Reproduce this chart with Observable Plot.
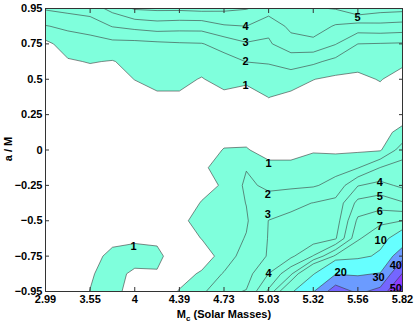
<!DOCTYPE html>
<html><head><meta charset="utf-8">
<script src="https://cdn.jsdelivr.net/npm/d3@7"></script>
<script src="https://cdn.jsdelivr.net/npm/@observablehq/plot@0.6"></script>
<style>
body{margin:0;background:#fff;}
#chart{width:415px;height:326px;}
</style></head><body><div id="chart"></div>
<script>
const massTicks = ["2.99","3.55","4","4.39","4.73","5.03","5.32","5.56","5.82"];
const spinTicks = ["0.95","0.75","0.5","0.25","0","\u22120.25","\u22120.5","\u22120.75","\u22120.95"];
const levels = [1,2,3,4,5,6,7,10,20,30,40,50];
const levelColors = ["#7fffdc","#7fffdc","#7fffdc","#7fffdc","#7fffdc","#7fffdc","#7fffdc","#66ffff","#6b9bff","#7466ff","#8c3cff","#9a2ff0"];
// grid of values: rows top (a/M = 0.95) to bottom (a/M = -0.95), columns low to high mass
const snrRows = [
  [3.1,3.3,3.5,4.3,5.1,5.2,5.2,5.3,5.2,5.05,4.6,4.8,4.9,5.05,5.8,5.4,5.3],
  [1.95,2.2,2.4,3.05,3.3,3.5,3.4,3.4,3.9,4.0,3.2,4.3,4.5,3.9,3.6,3.7,3.6],
  [0.75,1.45,1.6,1.7,1.7,1.8,1.9,1.95,2.4,2.9,2.9,3.5,3.7,3.05,2.0,1.95,1.9],
  [0.5,0.9,1.05,0.95,1.3,1.5,1.5,1.35,1.6,2.02,2.1,2.5,2.2,1.7,1.3,1.4,1.2],
  [0.3,0.6,0.6,0.6,1.02,1.2,1.2,0.95,1.3,1.2,1.4,1.4,1.02,0.8,0.8,1.05,0.6],
  [0.2,0.4,0.4,0.4,0.6,0.9,0.9,0.7,0.8,0.6,1.02,0.8,0.6,0.5,0.5,0.7,0.4],
  [0.2,0.3,0.3,0.3,0.4,0.5,0.5,0.4,0.4,0.4,0.6,0.5,0.4,0.4,0.4,0.5,0.6],
  [0.2,0.2,0.2,0.2,0.3,0.3,0.4,0.4,0.6,0.6,0.4,0.4,0.5,0.5,0.5,0.7,1.25],
  [0.2,0.2,0.2,0.2,0.3,0.3,0.4,0.5,1.05,1.08,0.6,0.6,0.9,0.8,0.85,0.9,2.5],
  [0.2,0.2,0.2,0.2,0.3,0.3,0.4,0.75,1.6,1.95,1.3,1.3,1.5,1.7,1.95,3.02,3.4],
  [0.2,0.2,0.2,0.3,0.3,0.3,0.4,0.7,1.1,2.2,1.8,1.8,1.9,2.3,3.95,4.3,3.8],
  [0.2,0.2,0.3,0.3,0.3,0.4,0.5,1.05,1.5,2.02,2.4,2.8,3.02,3.3,5.3,5.6,5.1],
  [0.3,0.3,0.3,0.4,0.5,0.6,0.8,1.3,1.6,1.9,3.02,3.2,3.4,3.5,6.2,6.6,7.0],
  [0.3,0.3,0.4,0.7,0.8,0.85,0.6,1.02,1.6,2.05,3.05,3.4,3.5,3.9,6.8,8.2,13],
  [0.4,0.5,0.6,1.3,1.5,1.2,0.5,0.6,1.3,2.6,3.05,3.8,5.05,7.2,8.5,11,27],
  [0.4,0.5,0.9,1.4,0.77,0.93,0.7,1.1,2.1,2.6,4.02,5.8,9.5,19.5,19,20.5,40.5],
  [0.4,0.5,1.02,1.3,0.6,0.5,1.05,1.8,2.8,3.05,5.2,8.8,19.5,36,28,33,55]
];
const labelText = ["5","4","3","2","1","1","2","3","4","4","5","6","7","10","20","30","40","50","1"];
const labelCol  = [13.99,8.97,8.97,8.97,8.97,10.0,9.96,9.96,10.0,14.98,14.98,14.98,14.98,15.02,13.23,14.93,15.7,15.7,3.95];
const labelRow  = [0.51,1.02,1.92,3.0,4.35,8.76,10.51,11.65,14.98,9.84,10.63,11.48,12.32,13.11,14.92,15.2,14.53,15.83,13.45];

const nRows = snrRows.length, nCols = snrRows[0].length;
const values = snrRows.flat();
const tickIdx = massTicks.map((_, k) => 2 * k);
const labels = labelText.map((t, k) => ({t, x: labelCol[k], y: labelRow[k]}));
const font = "'Liberation Sans', Arial, Helvetica, sans-serif";

const plot = Plot.plot({
  width: 415, height: 326,
  marginLeft: 45, marginRight: 13, marginTop: 8, marginBottom: 35,
  style: {fontFamily: font, fontSize: "11px", fontWeight: "bold", color: "#000", background: "#fff"},
  x: {domain: [0, nCols - 1], label: null},
  y: {domain: [nRows - 1, 0], label: null},
  color: {type: "ordinal", domain: levels, range: levelColors},
  marks: [
    Plot.contour(values, {width: nCols, height: nRows, x1: -0.5, x2: nCols - 0.5, y1: -0.5, y2: nRows - 0.5,
      thresholds: levels, fill: Plot.identity, stroke: "#3a3a3a", strokeWidth: 0.6, clip: true}),
    Plot.text(labels, {x: "x", y: "y", text: "t", fontSize: 11, fontWeight: "bold", fill: "#000"}),
    Plot.frame({stroke: "#333", strokeWidth: 1}),
    Plot.axisX({anchor: "bottom", ticks: tickIdx, tickSize: 0, tickPadding: 4, tickFormat: i => massTicks[i / 2], fill: "#000"}),
    Plot.axisX({anchor: "bottom", ticks: tickIdx, tickSize: -4, tickFormat: () => "", stroke: "#333"}),
    Plot.axisX({anchor: "top", ticks: tickIdx, tickSize: -4, tickFormat: () => "", stroke: "#333"}),
    Plot.axisY({anchor: "left", ticks: tickIdx, tickSize: 0, tickPadding: 3, tickFormat: j => spinTicks[j / 2], fill: "#000"}),
    Plot.axisY({anchor: "left", ticks: tickIdx, tickSize: -4, tickFormat: () => "", stroke: "#333"}),
    Plot.axisY({anchor: "right", ticks: tickIdx, tickSize: -4, tickFormat: () => "", stroke: "#333"})
  ]
});

const svg = d3.select(plot);
const xl = svg.append("text").attr("x", 224).attr("y", 318).attr("text-anchor", "middle")
  .attr("font-family", font).attr("font-size", 11).attr("font-weight", "bold").attr("fill", "#000");
xl.append("tspan").text("M");
xl.append("tspan").attr("dy", 3).attr("font-size", 8).text("c");
xl.append("tspan").attr("dy", -3).text(" (Solar Masses)");
svg.append("text").attr("transform", "translate(12,149) rotate(-90)").attr("text-anchor", "middle")
  .attr("font-family", font).attr("font-size", 11).attr("font-weight", "bold").attr("fill", "#000")
  .text("a / M");

document.getElementById("chart").appendChild(plot);
</script></body></html>
